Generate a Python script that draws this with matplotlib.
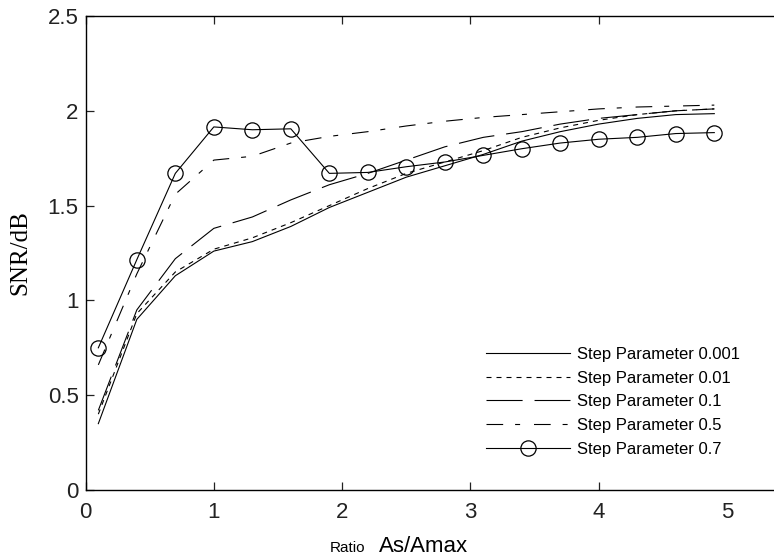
import numpy as np
import matplotlib
matplotlib.use("Agg")
import matplotlib.pyplot as plt

plt.rcParams['font.family'] = ['Liberation Sans', 'DejaVu Sans']
plt.rcParams['lines.scale_dashes'] = False

# ratio As/Amax, sampled every 0.3
ratio = [0.1, 0.4, 0.7, 1.0, 1.3, 1.6, 1.9, 2.2, 2.5, 2.8, 3.1, 3.4, 3.7, 4.0, 4.3, 4.6, 4.9]

snr_0001 = [0.35, 0.90, 1.13, 1.26, 1.31, 1.39, 1.49, 1.57, 1.65, 1.71, 1.77, 1.84, 1.89, 1.93, 1.96, 1.98, 1.985]
snr_001 = [0.40, 0.93, 1.15, 1.27, 1.33, 1.41, 1.50, 1.59, 1.67, 1.73, 1.79, 1.86, 1.91, 1.95, 1.98, 2.00, 2.01]
snr_01 = [0.42, 0.95, 1.22, 1.38, 1.44, 1.53, 1.61, 1.67, 1.74, 1.81, 1.86, 1.89, 1.93, 1.96, 1.98, 2.00, 2.01]
snr_05 = [0.66, 1.14, 1.56, 1.74, 1.76, 1.83, 1.865, 1.89, 1.92, 1.945, 1.965, 1.98, 1.995, 2.01, 2.02, 2.025, 2.03]
snr_07 = [0.75, 1.215, 1.67, 1.915, 1.90, 1.905, 1.67, 1.675, 1.705, 1.73, 1.765, 1.80, 1.83, 1.85, 1.86, 1.88, 1.885]

labels = ['Step Parameter 0.001', 'Step Parameter 0.01', 'Step Parameter 0.1',
          'Step Parameter 0.5', 'Step Parameter 0.7']

fig = plt.figure(figsize=(7.74, 5.60), dpi=100)
# right side of the frame is cut off in the original picture
ax = fig.add_axes([85.5/774, 70/560, 705.8/774, 474/560])

lw = 0.8
ax.plot(ratio, snr_0001, color='k', lw=lw, label=labels[0])
ax.plot(ratio, snr_001, color='k', lw=lw, dashes=(3.6, 3.6), label=labels[1])
ax.plot(ratio, snr_01, color='k', lw=lw, dashes=(26, 8.6), label=labels[2])
ax.plot(ratio, snr_05, color='k', lw=lw, dashes=(12, 8.6, 3.6, 10), label=labels[3])
ax.plot(ratio, snr_07, color='k', lw=lw, marker='o', markersize=11,
        markerfacecolor='none', markeredgewidth=0.9, label=labels[4])

ax.set_xlim(0, 5.5)
ax.set_ylim(0, 2.5)
ax.set_xticks([0, 1, 2, 3, 4, 5])
ax.set_yticks([0, 0.5, 1, 1.5, 2, 2.5])
ax.set_yticklabels(['0', '0.5', '1', '1.5', '2', '2.5'])
ax.tick_params(direction='in', length=6, width=0.9, top=True, labelsize=16,
               colors='#222222')
ax.tick_params(axis='x', pad=9)
ax.tick_params(axis='y', pad=5)
ax.xaxis.get_major_ticks()[5].tick1line.set_visible(False)
ax.xaxis.get_major_ticks()[5].tick2line.set_visible(False)
for s in ax.spines.values():
    s.set_linewidth(1.0)

ax.set_ylabel('SNR/dB', family='Liberation Serif', fontsize=18, labelpad=12)
fig.text(330/774, 8/560, 'Ratio', ha='left', va='baseline', fontsize=11)
fig.text(379/774, 8/560, 'As/Amax', ha='left', va='baseline', fontsize=16)

ax.legend(loc='upper left', bbox_to_anchor=(0.568, 0.302), frameon=False,
          fontsize=12, handlelength=5.0, handletextpad=0.45, labelspacing=0.52,
          borderpad=0, borderaxespad=0)

fig.savefig('out.png', dpi=100)
